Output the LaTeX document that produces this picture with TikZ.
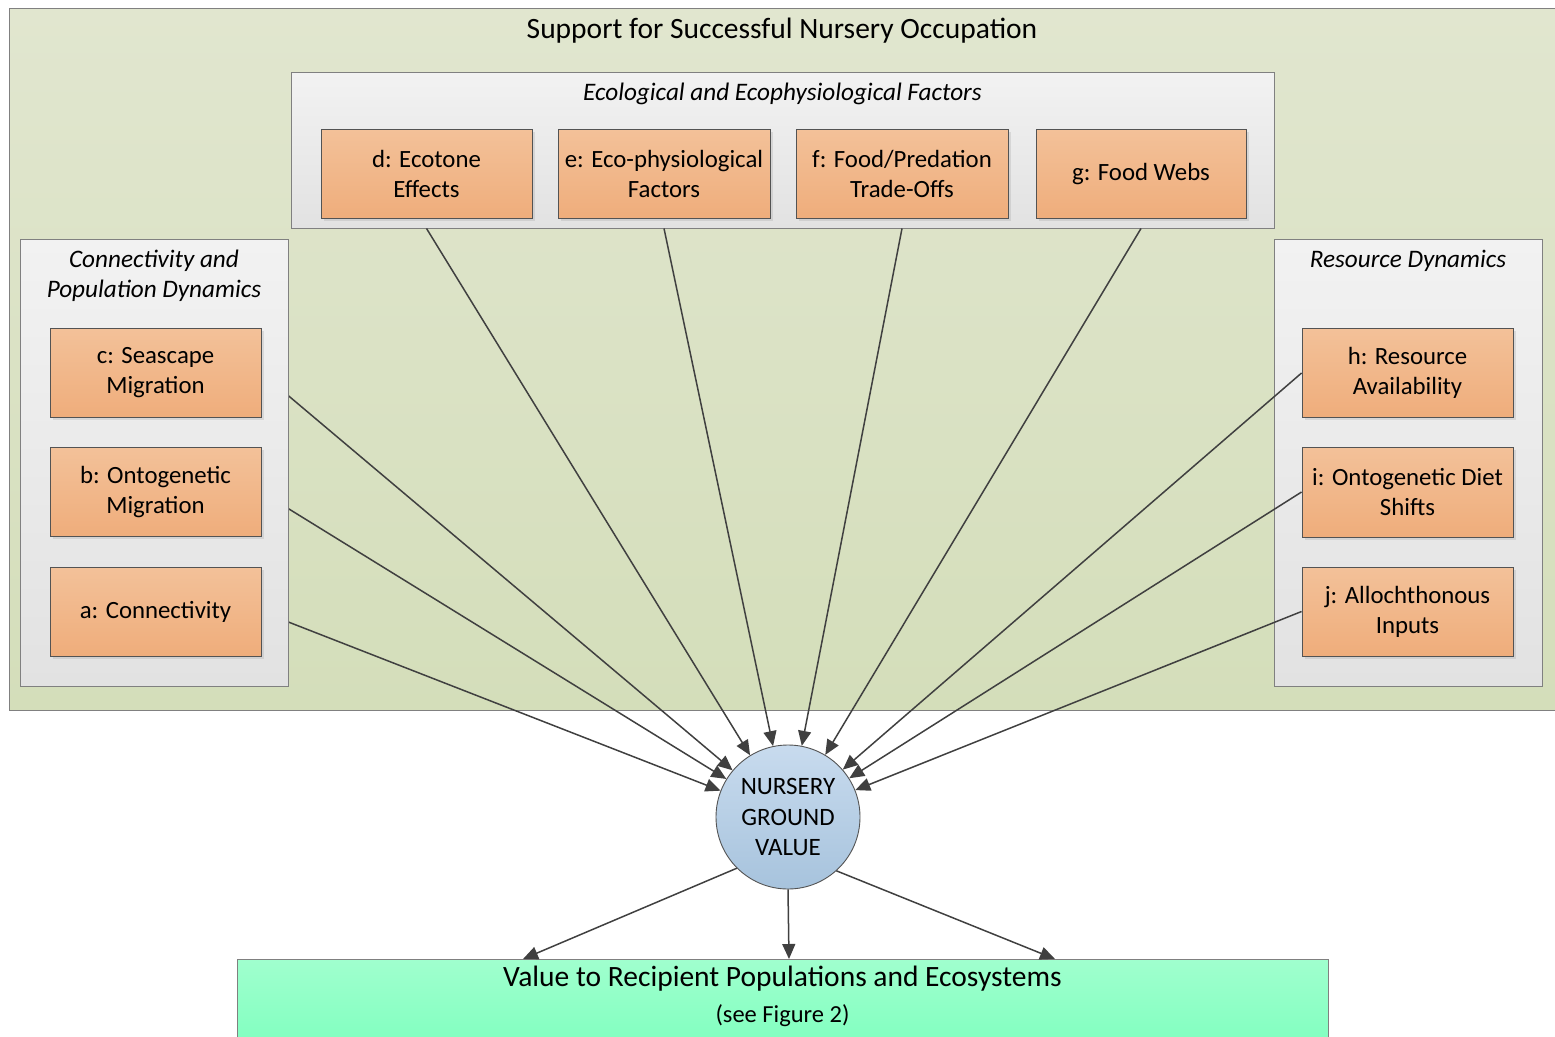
\documentclass[tikz,border=0pt]{standalone}
\usepackage{fontspec}
\setmainfont{Carlito}
\usetikzlibrary{arrows.meta,shadows}
\definecolor{edge}{HTML}{404040}
\definecolor{orange1}{HTML}{F3C199}
\definecolor{orange2}{HTML}{EFAD7B}
\definecolor{grayA}{HTML}{F2F2F2}
\definecolor{grayB}{HTML}{E2E2E2}
\definecolor{greenA}{HTML}{E1E6CF}
\definecolor{greenB}{HTML}{D4DEBA}
\definecolor{blueA}{HTML}{C8DBEE}
\definecolor{blueB}{HTML}{A7C3DD}
\definecolor{mintA}{HTML}{A0FFCE}
\definecolor{mintB}{HTML}{7FFFBF}
\tikzset{
  factor/.style={draw=edge!90, line width=0.9pt, top color=orange1, bottom color=orange2,
     minimum width=211pt, minimum height=89pt, align=center, font=\fontsize{24.8}{30}\selectfont,
     inner sep=2pt, drop shadow={shadow xshift=2.5pt, shadow yshift=-2.5pt, opacity=0.25, fill=black!40}},
  grp/.style={draw=black!50, line width=0.9pt, top color=grayA, bottom color=grayB},
  grptitle/.style={align=center, font=\fontsize{25.2}{30}\selectfont\itshape},
  arr/.style={draw=edge, line width=1.5pt, -{Triangle[length=15pt,width=13pt]}},
}
\begin{document}
\begin{tikzpicture}[x=1pt,y=-1pt]
\useasboundingbox (0,0) rectangle (1555,1036);
% outer support area
\node[draw=black!50, line width=0.9pt, top color=greenA, bottom color=greenB,
      minimum width=1560pt, minimum height=702pt, inner sep=0pt, anchor=north west] (support) at (9,8) {};
\node[font=\fontsize{29.5}{32}\selectfont] (supporttitle) at (782,31) {Support for Successful Nursery Occupation};

% central node
\node[circle, draw=edge!90, line width=0.9pt, top color=blueA, bottom color=blueB, minimum size=144pt,
      align=center, font=\fontsize{25}{30.5}\selectfont, inner sep=0pt] (nv) at (788,817) {NURSERY\\GROUND\\VALUE};

% left factor boxes (placed first so lines can go beneath group box)
\node[factor] (c) at (155.5,373) {};
\node[factor] (b) at (155.5,492) {};
\node[factor] (a) at (155.5,611.5) {};
\draw[arr] (c.east) -- (nv);
\draw[arr] (b.east) -- (nv);
\draw[arr] (a.east) -- (nv);

% groups
\node[grp, minimum width=983pt, minimum height=156pt] (topgrp) at (782.5,150) {};
\node[grp, minimum width=268pt, minimum height=447pt] (leftgrp) at (154,462.5) {};
\node[grp, minimum width=268pt, minimum height=447pt] (rightgrp) at (1408,462.5) {};
\node[grptitle] (toptitle) at (782.5,94) {Ecological and Ecophysiological Factors};
\node[grptitle] (lefttitle) at (154,276) {Connectivity and\\Population Dynamics};
\node[grptitle] (righttitle) at (1408,261) {Resource Dynamics};

% factor boxes
\node[factor] at (155.5,373) (c2) {c: Seascape\\Migration};
\node[factor] at (155.5,492) (b2) {b: Ontogenetic\\Migration};
\node[factor] at (155.5,611.5) (a2) {a: Connectivity};
\node[factor] (d) at (426.5,174) {d: Ecotone\\Effects};
\node[factor, minimum width=212pt] (e) at (664,174) {e: Eco-physiological\\Factors};
\node[factor, minimum width=212pt] (f) at (902,174) {f: Food/Predation\\Trade-Offs};
\node[factor, minimum width=210pt] (g) at (1141,174) {g: Food Webs};
\node[factor] (h) at (1407.5,373) {h: Resource\\Availability};
\node[factor, minimum height=90pt] (i) at (1407.5,492) {i: Ontogenetic Diet\\Shifts};
\node[factor] (j) at (1407.5,611.5) {j: Allochthonous\\Inputs};

% top and right connectors
\draw[arr] (topgrp.south -| d.south) -- (nv);
\draw[arr] (topgrp.south -| e.south) -- (nv);
\draw[arr] (topgrp.south -| f.south) -- (nv);
\draw[arr] (topgrp.south -| g.south) -- (nv);
\draw[arr] (h.west) -- (nv);
\draw[arr] (i.west) -- (nv);
\draw[arr] (j.west) -- (nv);

% bottom value box
\node[draw=black!50, line width=0.9pt, top color=mintA, bottom color=mintB, minimum width=1091pt,
      minimum height=90pt, inner sep=0pt, anchor=north west] (value) at (237,959) {};
\node[font=\fontsize{29.5}{32}\selectfont] (valuetitle) at (782.5,979) {Value to Recipient Populations and Ecosystems};
\node[font=\fontsize{24.5}{26}\selectfont] (valuesub) at (782.5,1016) {(see Figure 2)};
\coordinate (vl) at (523,959);
\coordinate (vm) at (789,959);
\coordinate (vr) at (1055,959);
\draw[arr] (nv.-135) -- (vl);
\draw[arr] (nv.south) -- (vm);
\draw[arr] (nv.-48) -- (vr);
\end{tikzpicture}
\end{document}
